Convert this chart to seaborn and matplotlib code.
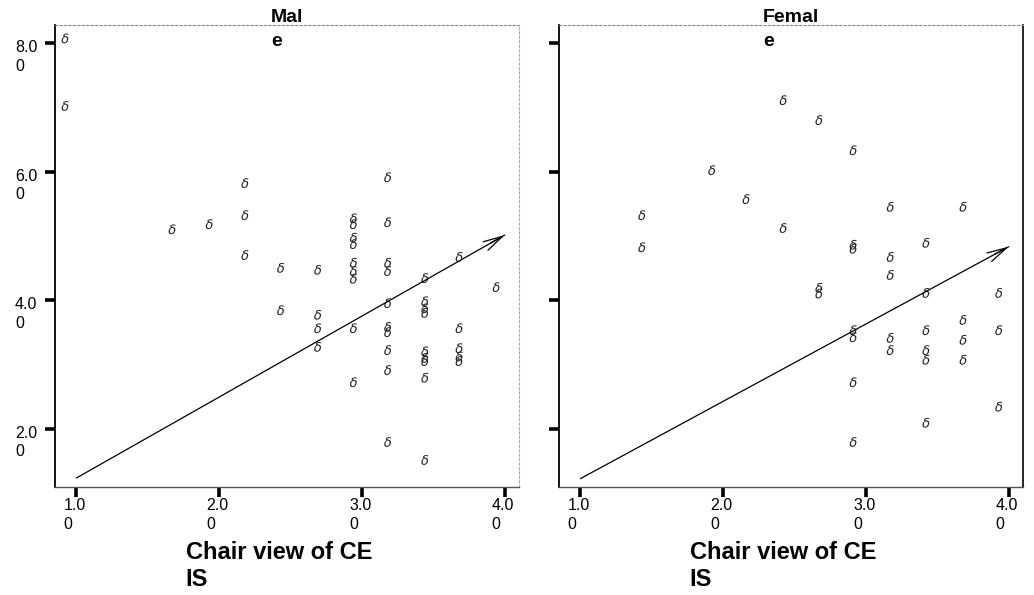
import matplotlib
matplotlib.use("Agg")
import matplotlib.pyplot as plt
import pandas as pd
import seaborn as sns
from matplotlib.transforms import blended_transform_factory, ScaledTranslation

# Scores by chair view, male respondents
male_x = [0.92, 0.92,
          1.67,
          1.93,
          2.18, 2.18, 2.18,
          2.43, 2.43,
          2.69, 2.69, 2.69, 2.69,
          2.94, 2.94, 2.94, 2.94, 2.94, 2.94, 2.94, 2.94, 2.94,
          3.18, 3.18, 3.18, 3.18, 3.18, 3.18, 3.18, 3.18, 3.18, 3.18,
          3.44, 3.44, 3.44, 3.44, 3.44, 3.44, 3.44, 3.44, 3.44,
          3.68, 3.68, 3.68, 3.68, 3.68,
          3.94]
male_y = [8.07, 7.02,
          5.10,
          5.18,
          5.82, 5.32, 4.70,
          4.50, 3.84,
          4.47, 3.77, 3.56, 3.27,
          5.27, 5.18, 4.97, 4.87, 4.58, 4.45, 4.33, 3.56, 2.72,
          5.91, 5.21, 4.58, 4.45, 3.95, 3.58, 3.50, 3.22, 2.91, 1.79,
          4.34, 3.98, 3.87, 3.80, 3.20, 3.10, 3.05, 2.79, 1.51,
          4.67, 3.56, 3.25, 3.12, 3.05,
          4.20]

# Scores by chair view, female respondents
female_x = [1.43, 1.43,
            1.92,
            2.16,
            2.42, 2.42,
            2.67, 2.67, 2.67,
            2.91, 2.91, 2.91, 2.91, 2.91, 2.91, 2.91,
            3.17, 3.17, 3.17, 3.17, 3.17,
            3.42, 3.42, 3.42, 3.42, 3.42, 3.42,
            3.68, 3.68, 3.68, 3.68,
            3.93, 3.93, 3.93]
female_y = [5.32, 4.82,
            6.02,
            5.57,
            7.11, 5.12,
            6.80, 4.19, 4.10,
            6.33, 4.86, 4.80, 3.53, 3.42, 2.72, 1.79,
            5.45, 4.67, 4.39, 3.41, 3.22,
            4.89, 4.11, 3.53, 3.22, 3.07, 2.09,
            5.45, 3.69, 3.38, 3.07,
            4.11, 3.53, 2.34]

# Fitted lines (end points)
male_fit_x = [1.0, 4.0]
male_fit_y = [1.23, 5.01]
female_fit_x = [1.0, 4.0]
female_fit_y = [1.22, 4.83]

panel_titles = ["Mal\ne", "Femal\ne"]
x_ticks = [1.0, 2.0, 3.0, 4.0]
x_tick_labels = ["1.0\n0", "2.0\n0", "3.0\n0", "4.0\n0"]
y_ticks = [2.0, 4.0, 6.0, 8.0]
y_tick_labels = ["2.0\n0", "4.0\n0", "6.0\n0", "8.0\n0"]
x_title = "Chair view of CE\nIS"

sns.set_theme(style="white")
plt.rcParams["font.family"] = ["Liberation Sans", "DejaVu Sans"]

W, H = 1034, 595
fig = plt.figure(figsize=(W / 100, H / 100), dpi=100)
ax_l = fig.add_axes([55 / W, 1 - 487 / H, 464 / W, 462 / H])
ax_r = fig.add_axes([559 / W, 1 - 487 / H, 464 / W, 462 / H])

panels = [
    (ax_l, male_x, male_y, male_fit_x, male_fit_y, panel_titles[0], True),
    (ax_r, female_x, female_y, female_fit_x, female_fit_y, panel_titles[1], False),
]

for ax, xs, ys, fx, fy, title, show_ylabels in panels:
    pts = pd.DataFrame({"x": xs, "y": ys})
    sns.scatterplot(data=pts, x="x", y="y", ax=ax, marker=r"$\delta$",
                    s=50, color="#222222", edgecolor="none", linewidth=0)

    fit = pd.DataFrame({"x": fx, "y": fy})
    sns.lineplot(data=fit, x="x", y="y", ax=ax, color="black", lw=0.9)
    slope = (fy[-1] - fy[0]) / (fx[-1] - fx[0])
    ax.annotate("", xy=(fx[-1], fy[-1]),
                xytext=(fx[-1] - 0.1, fy[-1] - 0.1 * slope),
                arrowprops=dict(arrowstyle="->,head_length=1.0,head_width=0.25",
                                lw=0.9, color="black", shrinkA=0, shrinkB=0,
                                mutation_scale=14))

    ax.set_xlim(0.85, 4.10)
    ax.set_ylim(1.09, 8.28)
    ax.set_xticks(x_ticks)
    ax.set_yticks(y_ticks)
    ax.set_xticklabels([])
    ax.set_yticklabels([])
    ax.set_xlabel("")
    ax.set_ylabel("")
    ax.tick_params(axis="both", direction="out", length=7, width=2.6,
                   color="black", bottom=True, left=True, pad=0)

    for side in ["left", "right", "top", "bottom"]:
        ax.spines[side].set_visible(True)
    ax.spines["left"].set(color="black", lw=1.3)
    ax.spines["top"].set(color="#888888", lw=0.8, linestyle=(0, (2, 2)))
    ax.spines["bottom"].set(color="#555555", lw=1.0, linestyle=(0, (6, 1)))
    if show_ylabels:
        ax.spines["right"].set(color="#aaaaaa", lw=0.8, linestyle=(0, (2, 2)))
    else:
        ax.spines["right"].set(color="black", lw=1.2)

    # x tick labels, left aligned just below each tick
    xt = blended_transform_factory(ax.transData, ax.transAxes) + \
        ScaledTranslation(-13 / 100, -11 / 100, fig.dpi_scale_trans)
    for v, lab in zip(x_ticks, x_tick_labels):
        ax.text(v, 0, lab, transform=xt, ha="left", va="top",
                fontsize=11.5, linespacing=1.35, color="black")

    if show_ylabels:
        yt = blended_transform_factory(ax.transAxes, ax.transData) + \
            ScaledTranslation(-40 / 100, 3 / 100, fig.dpi_scale_trans)
        for v, lab in zip(y_ticks, y_tick_labels):
            ax.text(0, v, lab, transform=yt, ha="left", va="top",
                    fontsize=11.5, linespacing=1.3, color="black")

    ax.text(0.5, 1 + 16 / 462, title, transform=ax.transAxes, ha="center",
            va="top", multialignment="left", fontsize=14, fontweight="bold",
            linespacing=1.5, color="black")

    ax.text(0.5 - 8 / 464, -54 / 462, x_title, transform=ax.transAxes,
            ha="center", va="top", multialignment="left", fontsize=17,
            fontweight="bold", linespacing=1.2, color="black")

fig.savefig("out.png", dpi=100, facecolor="white")
